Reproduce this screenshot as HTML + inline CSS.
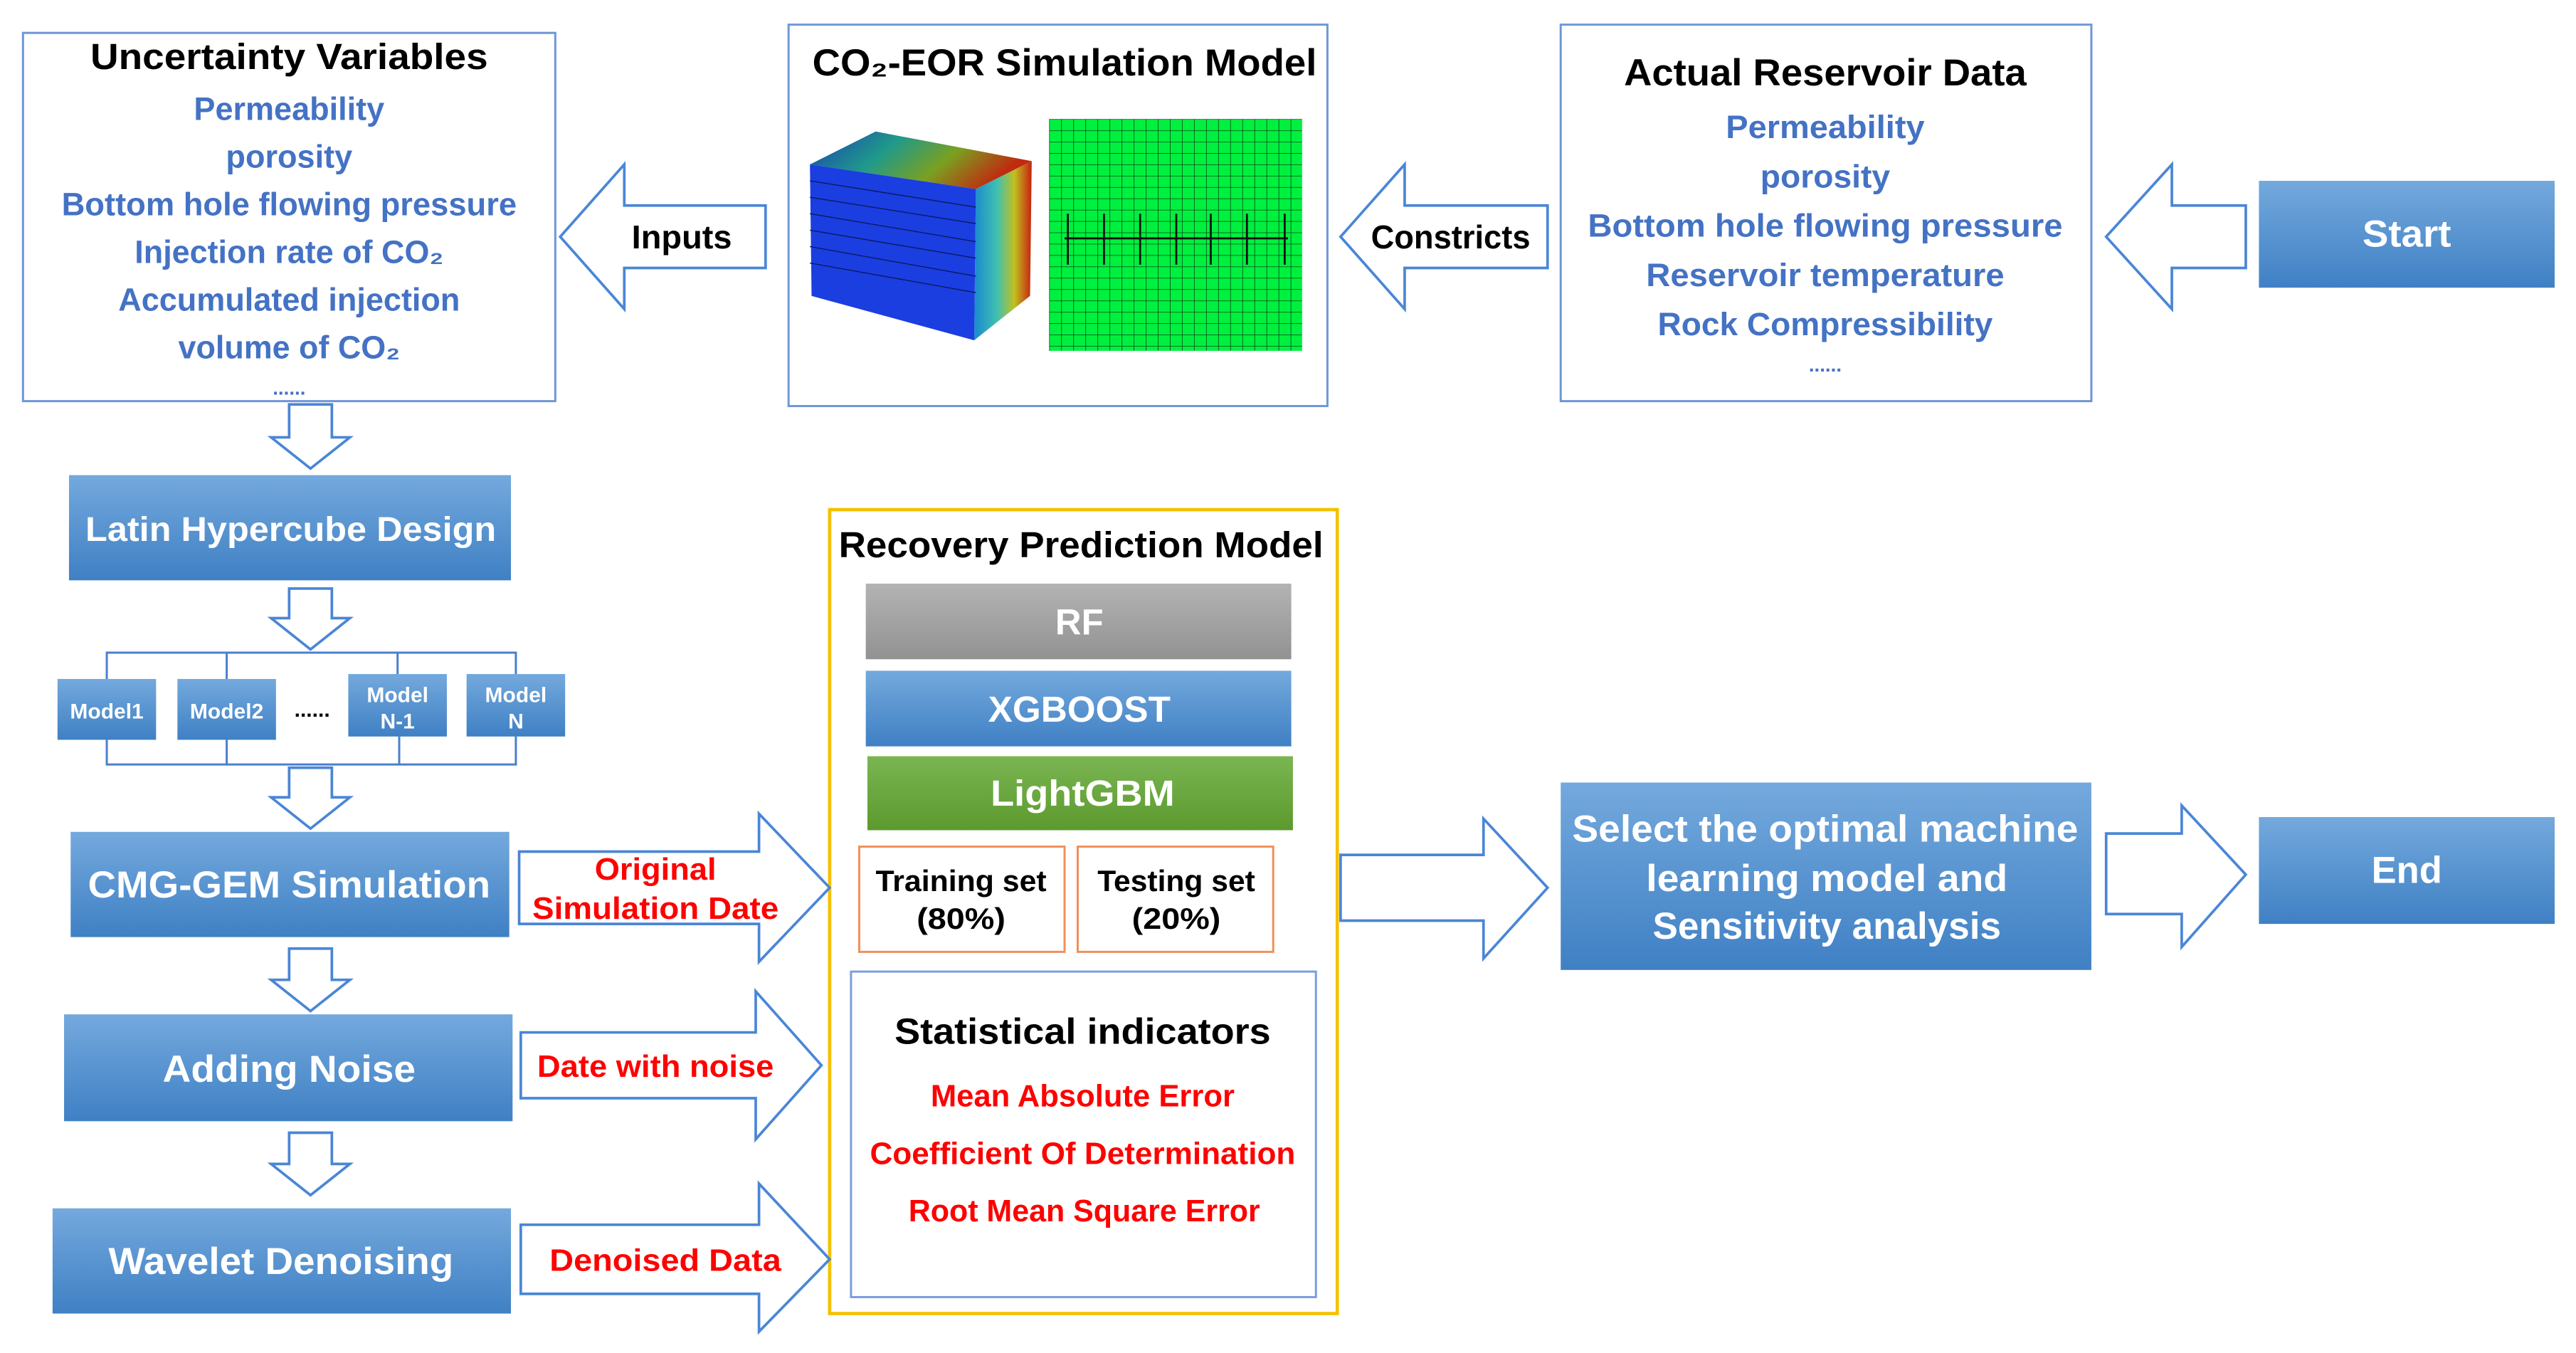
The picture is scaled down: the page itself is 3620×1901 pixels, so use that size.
<!DOCTYPE html>
<html><head><meta charset="utf-8"><style>html,body{margin:0;padding:0;background:#fff}svg{display:block}text{font-family:"Liberation Sans",sans-serif;font-weight:bold}</style></head>
<body>
<svg width="3620" height="1901" viewBox="0 0 1568 823" preserveAspectRatio="none" xmlns="http://www.w3.org/2000/svg">
<defs>
<linearGradient id="bl" x1="0" y1="0" x2="0" y2="1"><stop offset="0" stop-color="#74a9dd"/><stop offset="1" stop-color="#3f80c4"/></linearGradient>
<linearGradient id="gr" x1="0" y1="0" x2="0" y2="1"><stop offset="0" stop-color="#b3b3b3"/><stop offset="1" stop-color="#929292"/></linearGradient>
<linearGradient id="gn" x1="0" y1="0" x2="0" y2="1"><stop offset="0" stop-color="#7ab552"/><stop offset="1" stop-color="#5c9a2e"/></linearGradient>
<linearGradient id="top" x1="0" y1="0" x2="1" y2="0.3"><stop offset="0" stop-color="#1a3fb0"/><stop offset="0.4" stop-color="#1f9a8a"/><stop offset="0.7" stop-color="#7aa020"/><stop offset="1" stop-color="#c02a10"/></linearGradient>
<linearGradient id="side" x1="0" y1="0" x2="1" y2="0"><stop offset="0" stop-color="#1a8ad0"/><stop offset="0.4" stop-color="#40c0b0"/><stop offset="0.7" stop-color="#c0c020"/><stop offset="1" stop-color="#c82010"/></linearGradient>
<pattern id="grid" x="638.6" y="72.4" width="7.35" height="6.9" patternUnits="userSpaceOnUse"><rect width="7.35" height="6.9" fill="#00f040"/><path d="M0 0H7.35M0 0V6.9" stroke="#0a4a10" stroke-width="0.7"/></pattern>
</defs>
<g fill="none" stroke="#4a7fd0" stroke-width="1.3">
<rect x="14" y="20" width="324" height="224" stroke="#6f96d8"/>
<rect x="480" y="15" width="328" height="232" stroke="#6f96d8"/>
<rect x="950" y="15" width="323" height="229" stroke="#6f96d8"/>
<rect x="505" y="310" width="309" height="489" stroke="#f5c000" stroke-width="2"/>
<rect x="523" y="515" width="125" height="64" stroke="#f0905a"/>
<rect x="656" y="515" width="119" height="64" stroke="#f0905a"/>
<rect x="518" y="591" width="283" height="198" stroke="#7a9ee0"/>
</g>
<g fill="#fff" stroke="#4a86d6" stroke-width="1.6">
<path d="M466 125H380V100L341 144L380 188V163H466Z"/>
<path d="M942 125H855V100L816 144L855 188V163H942Z"/>
<path d="M1367 125H1322V100L1282 144L1322 188V163H1367Z"/>
<path d="M176 246H202V266H213L189 285L165 266H176Z"/>
<path d="M176 358H202V376H213L189 395L165 376H176Z"/>
<path d="M176 467H202V485H213L189 504L165 485H176Z"/>
<path d="M176 577H202V596H213L189 615L165 596H176Z"/>
<path d="M176 689H202V708H213L189 727L165 708H176Z"/>
<path d="M316 518H462V495L505 540L462 585V562H316Z"/>
<path d="M317 628H460V603L500 648L460 693V668H317Z"/>
<path d="M317 745H462V720L505 766L462 810V787H317Z"/>
<path d="M816 520H903V498L942 540L903 583V560H816Z"/>
<path d="M1282 507H1328V490L1367 532L1328 576V556H1282Z"/>
</g>
<g fill="none" stroke="#4a7fd0" stroke-width="1.3">
<path d="M65 413V397H314V410M138 397V413M242 397V410"/>
<path d="M65 450V465H314V448M138 450V465M243 448V465"/>
</g>
<g fill="url(#bl)">
<rect x="1375" y="110" width="180" height="65"/>
<rect x="42" y="289" width="269" height="64"/>
<rect x="35" y="413" width="60" height="37"/>
<rect x="108" y="413" width="60" height="37"/>
<rect x="212" y="410" width="60" height="38"/>
<rect x="284" y="410" width="60" height="38"/>
<rect x="43" y="506" width="267" height="64"/>
<rect x="39" y="617" width="273" height="65"/>
<rect x="32" y="735" width="279" height="64"/>
<rect x="527" y="408" width="259" height="46"/>
<rect x="950" y="476" width="323" height="114"/>
<rect x="1375" y="497" width="180" height="65"/>
</g>
<rect x="527" y="355" width="259" height="46" fill="url(#gr)"/>
<rect x="528" y="460" width="259" height="45" fill="url(#gn)"/>
<polygon points="493,100 533,80 628,98 594,115" fill="url(#top)"/>
<polygon points="594,115 628,98 627,180 593,207" fill="url(#side)"/>
<polygon points="493,100 594,115 593,207 494,180" fill="#1b3ee0"/>
<g stroke="#0a1a60" stroke-width="0.6"><path d="M493,110L594,126M493,120L594,136M493,130L594,147M493,140L594,157M493,150L594,168M493,160L594,178"/></g>
<rect x="638.6" y="72.4" width="154" height="141" fill="url(#grid)"/>
<g stroke="#111" stroke-width="1.2"><path d="M648 145H784M650 130V161M672 130V161M694 130V161M716 130V161M737 130V161M759 130V161M782 130V161"/></g>
<g text-anchor="middle">
<text x="176" y="42" font-size="22" textLength="242" lengthAdjust="spacingAndGlyphs">Uncertainty Variables</text>
<g fill="#4472c4" font-size="19.5">
<text x="176" y="73" textLength="116" lengthAdjust="spacingAndGlyphs">Permeability</text>
<text x="176" y="102" textLength="77" lengthAdjust="spacingAndGlyphs">porosity</text>
<text x="176" y="131" textLength="277" lengthAdjust="spacingAndGlyphs">Bottom hole flowing pressure</text>
<text x="176" y="160" textLength="188" lengthAdjust="spacingAndGlyphs">Injection rate of CO₂</text>
<text x="176" y="189" textLength="208" lengthAdjust="spacingAndGlyphs">Accumulated injection</text>
<text x="176" y="218" textLength="135" lengthAdjust="spacingAndGlyphs">volume of CO₂</text>
<text x="176" y="240" font-size="12">......</text>
<text x="1111" y="84" textLength="121" lengthAdjust="spacingAndGlyphs">Permeability</text>
<text x="1111" y="114" textLength="79" lengthAdjust="spacingAndGlyphs">porosity</text>
<text x="1111" y="144" textLength="289" lengthAdjust="spacingAndGlyphs">Bottom hole flowing pressure</text>
<text x="1111" y="174" textLength="218" lengthAdjust="spacingAndGlyphs">Reservoir temperature</text>
<text x="1111" y="204" textLength="204" lengthAdjust="spacingAndGlyphs">Rock Compressibility</text>
<text x="1111" y="226" font-size="12">......</text>
</g>
<text x="648" y="46" font-size="23" textLength="307" lengthAdjust="spacingAndGlyphs">CO₂-EOR Simulation Model</text>
<text x="1111" y="52" font-size="23" textLength="245" lengthAdjust="spacingAndGlyphs">Actual Reservoir Data</text>
<text x="415" y="151" font-size="20" textLength="61" lengthAdjust="spacingAndGlyphs">Inputs</text>
<text x="883" y="151" font-size="20" textLength="97" lengthAdjust="spacingAndGlyphs">Constricts</text>
<g fill="#fff">
<text x="1465" y="150" font-size="23" textLength="54" lengthAdjust="spacingAndGlyphs">Start</text>
<text x="1465" y="537" font-size="23" textLength="43" lengthAdjust="spacingAndGlyphs">End</text>
<text x="177" y="329" font-size="21" textLength="250" lengthAdjust="spacingAndGlyphs">Latin Hypercube Design</text>
<text x="176" y="546" font-size="23" textLength="245" lengthAdjust="spacingAndGlyphs">CMG-GEM Simulation</text>
<text x="176" y="658" font-size="23" textLength="154" lengthAdjust="spacingAndGlyphs">Adding Noise</text>
<text x="171" y="775" font-size="23" textLength="210" lengthAdjust="spacingAndGlyphs">Wavelet Denoising</text>
<text x="65" y="437" font-size="13">Model1</text>
<text x="138" y="437" font-size="13">Model2</text>
<text x="242" y="427" font-size="13">Model</text>
<text x="242" y="443" font-size="13">N-1</text>
<text x="314" y="427" font-size="13">Model</text>
<text x="314" y="443" font-size="13">N</text>
<text x="657" y="386" font-size="22">RF</text>
<text x="657" y="439" font-size="22" textLength="111" lengthAdjust="spacingAndGlyphs">XGBOOST</text>
<text x="659" y="490" font-size="22" textLength="112" lengthAdjust="spacingAndGlyphs">LightGBM</text>
<text x="1111" y="512" font-size="23" textLength="308" lengthAdjust="spacingAndGlyphs">Select the optimal machine</text>
<text x="1112" y="542" font-size="23" textLength="220" lengthAdjust="spacingAndGlyphs">learning model and</text>
<text x="1112" y="571" font-size="23" textLength="212" lengthAdjust="spacingAndGlyphs">Sensitivity analysis</text>
</g>
<text x="190" y="436" font-size="13">......</text>
<text x="658" y="339" font-size="22" textLength="295" lengthAdjust="spacingAndGlyphs">Recovery Prediction Model</text>
<text x="585" y="542" font-size="18" textLength="104" lengthAdjust="spacingAndGlyphs">Training set</text>
<text x="585" y="565" font-size="18" textLength="54" lengthAdjust="spacingAndGlyphs">(80%)</text>
<text x="716" y="542" font-size="18" textLength="96" lengthAdjust="spacingAndGlyphs">Testing set</text>
<text x="716" y="565" font-size="18" textLength="54" lengthAdjust="spacingAndGlyphs">(20%)</text>
<text x="659" y="635" font-size="22" textLength="229" lengthAdjust="spacingAndGlyphs">Statistical indicators</text>
<g fill="#f00" font-size="19">
<text x="659" y="673" textLength="185" lengthAdjust="spacingAndGlyphs">Mean Absolute Error</text>
<text x="659" y="708" textLength="259" lengthAdjust="spacingAndGlyphs">Coefficient Of Determination</text>
<text x="660" y="743" textLength="214" lengthAdjust="spacingAndGlyphs">Root Mean Square Error</text>
<text x="399" y="535" textLength="74" lengthAdjust="spacingAndGlyphs">Original</text>
<text x="399" y="559" textLength="150" lengthAdjust="spacingAndGlyphs">Simulation Date</text>
<text x="399" y="655" textLength="144" lengthAdjust="spacingAndGlyphs">Date with noise</text>
<text x="405" y="773" textLength="141" lengthAdjust="spacingAndGlyphs">Denoised Data</text>
</g>
</g>
</svg>
</body></html>
